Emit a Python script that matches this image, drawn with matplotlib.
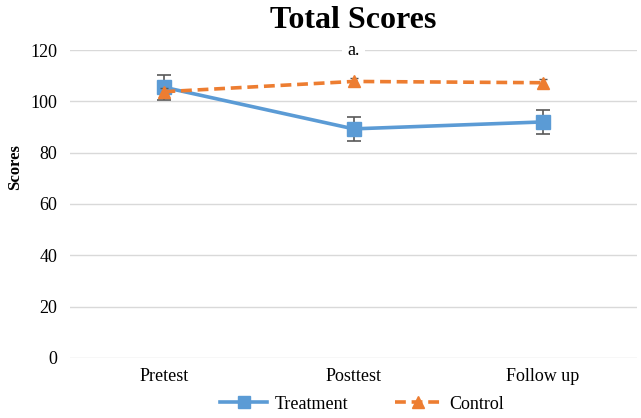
import matplotlib.pyplot as plt
from matplotlib.lines import Line2D

# data
phases = ['Pretest', 'Posttest', 'Follow up']
treatment = [105.5, 89.3, 92.0]
treatment_err = [5.0, 4.8, 4.7]
control = [103.8, 107.8, 107.3]
control_err = [1.5, 1.5, 1.5]
yticks = [0, 20, 40, 60, 80, 100, 120]

plt.rcParams['font.family'] = ['Liberation Serif', 'DejaVu Serif']

blue = '#5B9BD5'
orange = '#ED7D31'
dash = (0, (3, 1.6))

fig = plt.figure(figsize=(6.41, 4.18), dpi=100)
ax = fig.add_axes([0.109, 0.144, 0.885, 0.736])

x = list(range(len(phases)))

ax.errorbar(x, treatment, yerr=treatment_err, color=blue, lw=2.6,
            marker='s', ms=10, ecolor='#595959', elinewidth=1.2, capsize=5,
            capthick=1.2, zorder=3)
ax.errorbar(x, control, yerr=control_err, color=orange, lw=2.6,
            ls=dash, marker='^', ms=9, ecolor='#595959',
            elinewidth=1.0, capsize=3, capthick=1.0, zorder=4)

ax.set_xlim(-0.5, 2.5)
ax.set_ylim(0, 120)
ax.set_yticks(yticks)
ax.set_xticks(x)
ax.set_xticklabels(phases)
ax.tick_params(length=0, labelsize=13, pad=7)
ax.tick_params(axis='y', pad=9)
ax.grid(axis='y', color='#d9d9d9', lw=1)
ax.set_axisbelow(True)
for s in ax.spines.values():
    s.set_visible(False)

ax.set_ylabel('Scores', fontsize=12, fontweight='bold')
ax.yaxis.set_label_coords(-0.083, 0.62)
ax.set_title('Total Scores', fontsize=23, fontweight='bold', pad=16)
ax.text(1, 120, 'a.', ha='center', va='center', fontsize=13,
        bbox=dict(facecolor='white', edgecolor='none', pad=4))

handles = [Line2D([], [], color=blue, lw=2.6, marker='s', ms=9),
           Line2D([], [], color=orange, lw=2.6, ls=dash, marker='^', ms=8)]
ax.legend(handles, ['Treatment', 'Control'], loc='upper center',
          bbox_to_anchor=(0.515, -0.088), ncol=2, frameon=False, fontsize=13,
          handlelength=2.6, handletextpad=0.4, columnspacing=2.6,
          borderpad=0.1)

fig.savefig('out.png', dpi=100)
